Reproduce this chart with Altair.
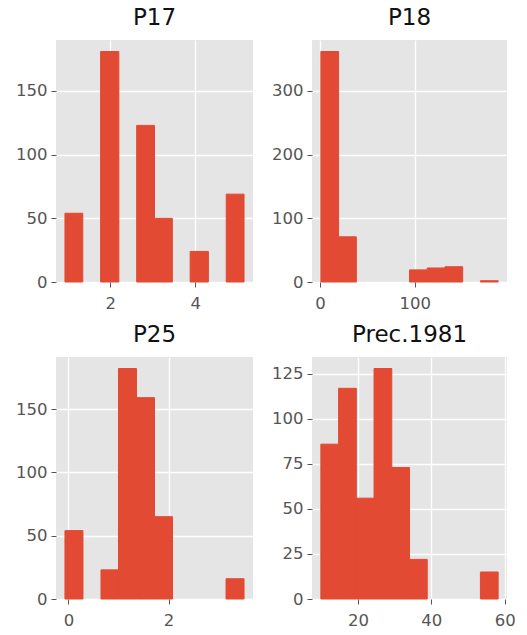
import altair as alt
import pandas as pd

BAR_COLOR = "#E24A33"
PANEL_BG = "#E5E5E5"
FONT = "DejaVu Sans"

# Histogram bin edges (10 equal bins) and counts for each variable
p17_edges = [0.93, 1.35, 1.77, 2.20, 2.62, 3.04, 3.46, 3.88, 4.31, 4.73, 5.15]
p17_counts = [54, 0, 181, 0, 123, 50, 0, 24, 0, 69]

p18_edges = [1, 19.7, 38.4, 57.1, 75.8, 94.5, 113.2, 131.9, 150.6, 169.3, 188]
p18_counts = [362, 71, 0, 0, 0, 19, 22, 24, 0, 2]

p25_edges = [-0.07, 0.29, 0.65, 1.00, 1.36, 1.72, 2.08, 2.44, 2.79, 3.15, 3.51]
p25_counts = [54, 0, 23, 182, 159, 65, 0, 0, 0, 16]

prec_edges = [9.9, 14.73, 19.56, 24.39, 29.22, 34.05, 38.88, 43.71, 48.54, 53.37, 58.2]
prec_counts = [86, 117, 56, 128, 73, 22, 0, 0, 0, 15]

# Tick positions per panel
p17_xticks, p17_yticks = [2, 4], [0, 50, 100, 150]
p18_xticks, p18_yticks = [0, 100], [0, 100, 200, 300]
p25_xticks, p25_yticks = [0, 2], [0, 50, 100, 150]
prec_xticks, prec_yticks = [20, 40, 60], [0, 25, 50, 75, 100, 125]


def hist_panel(title, edges, counts, xticks, yticks, width, height):
    df = pd.DataFrame({"start": edges[:-1], "end": edges[1:], "count": counts})
    df = df[df["count"] > 0]
    span = edges[-1] - edges[0]
    xdom = [edges[0] - 0.05 * span, edges[-1] + 0.05 * span]
    ydom = [0, max(counts) * 1.05]
    return (
        alt.Chart(df, title=alt.Title(title))
        .mark_rect(color=BAR_COLOR, stroke=BAR_COLOR, strokeWidth=1)
        .encode(
            x=alt.X("start:Q", scale=alt.Scale(domain=xdom, nice=False, zero=False),
                    axis=alt.Axis(values=xticks, title=None)),
            x2="end:Q",
            y=alt.Y("count:Q", scale=alt.Scale(domain=ydom, nice=False, zero=False),
                    axis=alt.Axis(values=yticks, title=None)),
            y2=alt.datum(0),
        )
        .properties(width=width, height=height)
    )


top = alt.hconcat(
    hist_panel("P17", p17_edges, p17_counts, p17_xticks, p17_yticks, 197, 242),
    hist_panel("P18", p18_edges, p18_counts, p18_xticks, p18_yticks, 195, 242),
    spacing=17,
)
bottom = alt.hconcat(
    hist_panel("P25", p25_edges, p25_counts, p25_xticks, p25_yticks, 197, 242),
    hist_panel("Prec.1981", prec_edges, prec_counts, prec_xticks, prec_yticks, 195, 242),
    spacing=17,
)

chart = (
    alt.vconcat(top, bottom, spacing=12)
    .properties(padding={"left": 14, "top": 7, "right": 0, "bottom": 0}, background="white")
    .configure_view(fill=PANEL_BG, stroke=None)
    .configure_axis(
        domain=False,
        grid=True,
        gridColor="white",
        gridWidth=1.3,
        tickColor="#555555",
        tickSize=5,
        labelColor="#555555",
        labelFont=FONT,
        labelFontSize=16.5,
    )
    .configure_axisY(labelPadding=4, minExtent=42, maxExtent=42)
    .configure_axisX(labelPadding=8)
    .configure_title(font=FONT, fontSize=23, fontWeight="normal", color="#111111",
                     offset=10, anchor="middle")
)

chart.save("out.html", embed_options={"renderer": "svg", "actions": False})
